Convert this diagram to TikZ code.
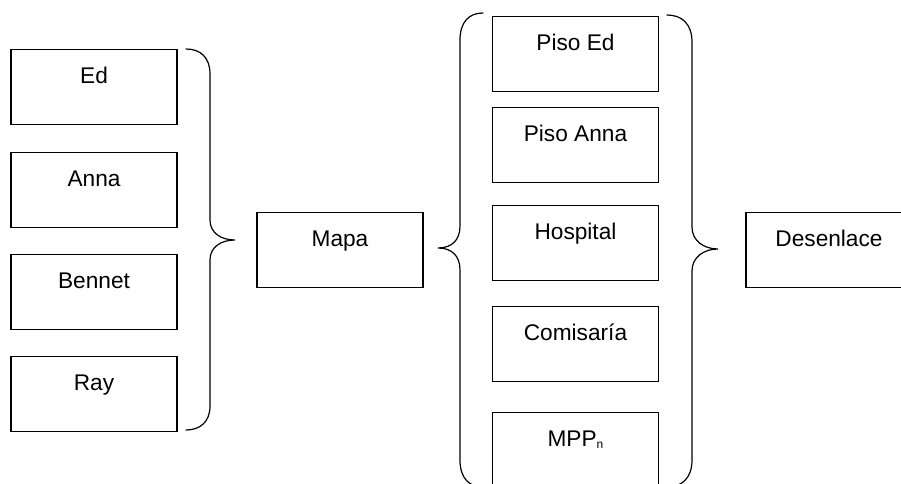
\documentclass[tikz,border=0pt]{standalone}
\usepackage{fontspec}
\setmainfont{Liberation Sans}
\usepackage{tikz}
\tikzset{
  caja/.style={draw, line width=1.1pt, anchor=north, minimum width=124.5pt,
    inner ysep=0pt, text height=25.5pt, text depth=30.75pt,
    font=\fontsize{17}{20}\selectfont},
  llave/.style={line width=0.9pt, line cap=round}}

\begin{document}
\begin{tikzpicture}[x=0.75pt, y=-0.75pt]
      \useasboundingbox (0, 0) rectangle (901, 484);
      \clip (0, 0) rectangle (901, 484);

      % personajes
      \node [caja] (ed) at (94, 49) {Ed};
      \node [caja] (anna) at (94, 152) {Anna};
      \node [caja] (bennet) at (94, 254) {Bennet};
      \node [caja] (ray) at (94, 356) {Ray};

      \draw [llave] (186, 49) .. controls (200, 49) and (210, 57) .. (210, 74) -- (210, 220)
        .. controls (210, 233) and (221, 240) .. (235, 240)
        .. controls (221, 240) and (210, 247) .. (210, 260) -- (210, 406)
        .. controls (210, 422) and (200, 430) .. (186, 430);

      \node [caja] (mapa) at (340, 212) {Mapa};

      % lugares
      \draw [llave] (483, 13) .. controls (469, 13) and (460, 22) .. (460, 40) -- (460, 226)
        .. controls (460, 240) and (452, 248) .. (438, 248)
        .. controls (452, 248) and (460, 256) .. (460, 270) -- (460, 460)
        .. controls (460, 478) and (469, 487) .. (483, 487);

      \node [caja] (pisoed) at (575.5, 16) {Piso Ed};
      \node [caja] (pisoanna) at (575.5, 107) {Piso Anna};
      \node [caja] (hospital) at (575.5, 205) {Hospital};
      \node [caja] (comisaria) at (575.5, 306) {Comisaría};
      \node [caja] (mpp) at (575.5, 412) {MPP{\fontsize{9}{10}\selectfont\raisebox{-1pt}{n}}};

      \draw [llave] (667, 15) .. controls (682, 15) and (692, 24) .. (692, 42) -- (692, 227)
        .. controls (692, 241) and (704, 249) .. (718, 249)
        .. controls (704, 249) and (692, 257) .. (692, 271) -- (692, 460)
        .. controls (692, 478) and (682, 487) .. (667, 487);

      \node [caja] (desenlace) at (829, 212) {Desenlace};
    \end{tikzpicture}
\end{document}
